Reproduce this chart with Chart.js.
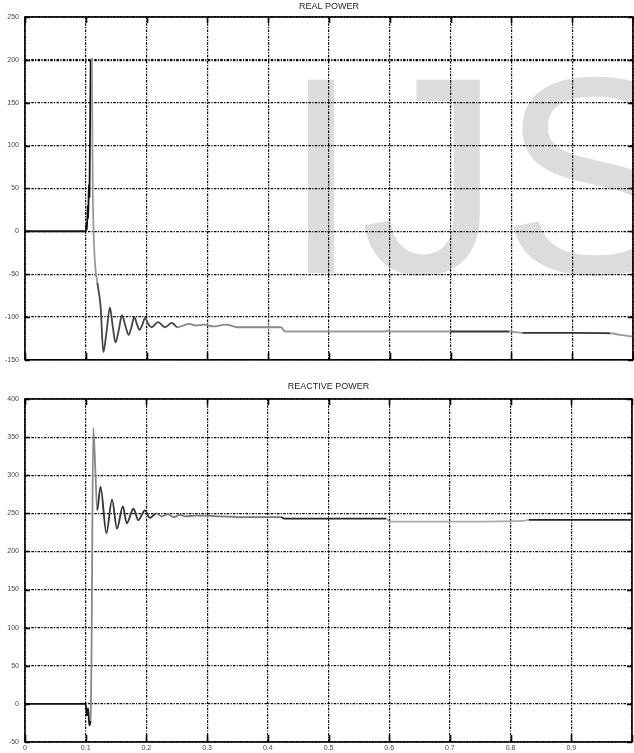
<!DOCTYPE html>
<html>
<head>
<meta charset="utf-8">
<script src="https://cdn.jsdelivr.net/npm/chart.js@4.4.1/dist/chart.umd.min.js"></script>
<style>
  html, body { margin: 0; padding: 0; background: #fff; }
  #wrap { position: relative; width: 634px; height: 753px; overflow: hidden; }
  #c-real { position: absolute; left: 0; top: 0; }
  #c-reac { position: absolute; left: 0; top: 370px; }
</style>
</head>
<body>
<div id="wrap">
  <canvas id="c-real" width="634" height="370"></canvas>
  <canvas id="c-reac" width="634" height="383"></canvas>
</div>
<script>
// Datos (tiempo en s, potencia)
const tiempoReal = [0, 0.1, 0.101, 0.102, 0.103, 0.104, 0.105, 0.106, 0.108, 0.110, 0.1115, 0.119,
  0.1244, 0.1288, 0.134, 0.1396, 0.1445, 0.1488, 0.154, 0.1596, 0.165, 0.1705, 0.175, 0.1797,
  0.184, 0.1883, 0.193, 0.1976, 0.2025, 0.2084, 0.2187, 0.23, 0.2415, 0.251, 0.26, 0.27, 0.28,
  0.295, 0.31, 0.33, 0.35, 0.40, 0.421, 0.428, 0.50, 0.592, 0.596, 0.60, 0.70, 0.796, 0.818,
  0.90, 0.962, 0.98, 1.0];
const potReal = [0, 0, 10, 2, 30, 15, 55, 40, 200, 201, 40, -60,
  -88, -141, -118, -89, -112, -130, -116, -98, -110, -121, -112, -100,
  -108, -115, -109, -101, -108, -112, -106, -112, -107, -112, -110, -108, -110,
  -109, -111, -109, -112, -112, -112, -117, -117, -117, -116, -117, -117, -117, -118.5,
  -118.5, -119, -121, -123];

const tiempoReac = [0, 0.1, 0.102, 0.104, 0.106, 0.108, 0.1095, 0.1125, 0.1162, 0.119, 0.1244,
  0.1341, 0.1434, 0.1515, 0.1612, 0.1677, 0.1786, 0.1867, 0.1976, 0.2057, 0.2165, 0.225, 0.235,
  0.245, 0.255, 0.265, 0.28, 0.30, 0.32, 0.36, 0.40, 0.422, 0.428, 0.595, 0.601, 0.70, 0.82,
  0.83, 1.0];
const potReac = [0, 0, -15, -6, -28, -22, 60, 362, 300, 254, 285,
  224, 268, 230, 259, 237, 256, 241, 254, 244, 250, 246, 249,
  245, 248, 246, 247, 247, 246, 245, 245, 245, 243, 243, 239, 239, 240,
  241.5, 241.5];

const ticksRealY = [-150, 250, 50];   // min, max, paso
const ticksReacY = [-50, 400, 50];
const ticksX = [0, 1, 0.1];

// tono del trazo (la figura escaneada alterna negro y gris)
const tonoReal = [[0.108, '#111'], [0.12, '#999'], [0.25, '#444'], [0.43, '#888'], [0.67, '#9a9a9a'],
  [0.795, '#333'], [0.82, '#999'], [0.96, '#333'], [1.01, '#999']];
const tonoReac = [[0.108, '#111'], [0.12, '#888'], [0.22, '#333'], [0.425, '#777'], [0.598, '#222'],
  [0.83, '#aaa'], [0.98, '#222'], [1.01, '#aaa']];

const FUENTE = '"Liberation Sans", Arial, sans-serif';
const DASH = [2.5, 1.3, 1.2, 1.3];

function colorTramo(tonos, x) {
  for (const [hasta, c] of tonos) if (x < hasta) return c;
  return tonos[tonos.length - 1][1];
}

const marco = {
  id: 'marco',
  beforeDraw(chart, args, opts) {
    if (!opts.marca) return;
    const ctx = chart.ctx;
    ctx.save();
    ctx.font = '281px ' + FUENTE;
    ctx.fillStyle = '#dcdcdc';
    ctx.textBaseline = 'alphabetic';
    ctx.fillText(opts.marca, 282, 273);
    ctx.restore();
  },
  afterDraw(chart, args, opts) {
    const { ctx, chartArea: a, scales: { x, y } } = chart;
    ctx.save();
    ctx.strokeStyle = '#000';
    ctx.lineWidth = 1.6;
    ctx.strokeRect(a.left, a.top, a.right - a.left, a.bottom - a.top);
    ctx.beginPath();
    x.ticks.forEach(t => {
      const px = Math.round(x.getPixelForValue(t.value)) + 0.5;
      ctx.moveTo(px, a.top); ctx.lineTo(px, a.top + 6);
      ctx.moveTo(px, a.bottom); ctx.lineTo(px, a.bottom - 7);
    });
    y.ticks.forEach(t => {
      const py = Math.round(y.getPixelForValue(t.value)) + 0.5;
      ctx.moveTo(a.left, py); ctx.lineTo(a.left + 5, py);
      ctx.moveTo(a.right, py); ctx.lineTo(a.right - 5, py);
    });
    ctx.stroke();
    ctx.font = '9px ' + FUENTE;
    ctx.fillStyle = '#223';
    ctx.textAlign = 'center';
    ctx.textBaseline = 'middle';
    ctx.fillText(opts.titulo, (a.left + a.right) / 2, opts.tituloY);
    ctx.restore();
  }
};

function crear(id, tiempos, valores, rangoY, tonos, cfg) {
  const puntos = tiempos.map((t, i) => ({ x: t, y: valores[i] }));
  return new Chart(document.getElementById(id), {
    type: 'line',
    data: {
      datasets: [{
        data: puntos,
        borderColor: '#333',
        borderWidth: 1.8,
        pointRadius: 0,
        cubicInterpolationMode: 'monotone',
        segment: { borderColor: c => colorTramo(tonos, (c.p0.parsed.x + c.p1.parsed.x) / 2) }
      }]
    },
    options: {
      responsive: false,
      animation: false,
      devicePixelRatio: 1,
      layout: { padding: { left: 0, right: 1, top: cfg.arriba, bottom: cfg.abajo } },
      plugins: {
        legend: { display: false },
        tooltip: { enabled: false },
        marco: { titulo: cfg.titulo, tituloY: cfg.tituloY, marca: cfg.marca }
      },
      scales: {
        x: {
          type: 'linear',
          min: ticksX[0], max: ticksX[1],
          ticks: {
            display: cfg.etiquetasX,
            stepSize: ticksX[2],
            padding: 2,
            color: '#445',
            font: { size: 7, family: FUENTE },
            maxRotation: 0,
            callback: v => v >= 0.999 ? '' : String(Math.round(v * 10) / 10)
          },
          grid: { color: '#000', lineWidth: 1.2, drawTicks: false },
          border: { display: false, dash: DASH },
          afterFit: s => { s.height = cfg.altoX; }
        },
        y: {
          min: rangoY[0], max: rangoY[1],
          ticks: {
            stepSize: rangoY[2],
            padding: 6,
            color: '#445',
            font: { size: 7, family: FUENTE }
          },
          grid: {
            color: '#000',
            drawTicks: false,
            lineWidth: c => (c.tick && c.tick.value === cfg.lineaGruesa) ? 2.2 : 1.2
          },
          border: { display: false, dash: DASH },
          afterFit: s => { s.width = 25; }
        }
      }
    },
    plugins: [marco]
  });
}

crear('c-real', tiempoReal, potReal, ticksRealY, tonoReal, {
  arriba: 17, abajo: 9, altoX: 0, etiquetasX: false,
  titulo: 'REAL POWER', tituloY: 7, marca: 'IJSER', lineaGruesa: 200
});
crear('c-reac', tiempoReac, potReac, ticksReacY, tonoReac, {
  arriba: 29, abajo: 0, altoX: 11, etiquetasX: true,
  titulo: 'REACTIVE POWER', tituloY: 17, marca: null, lineaGruesa: null
});
</script>
</body>
</html>
